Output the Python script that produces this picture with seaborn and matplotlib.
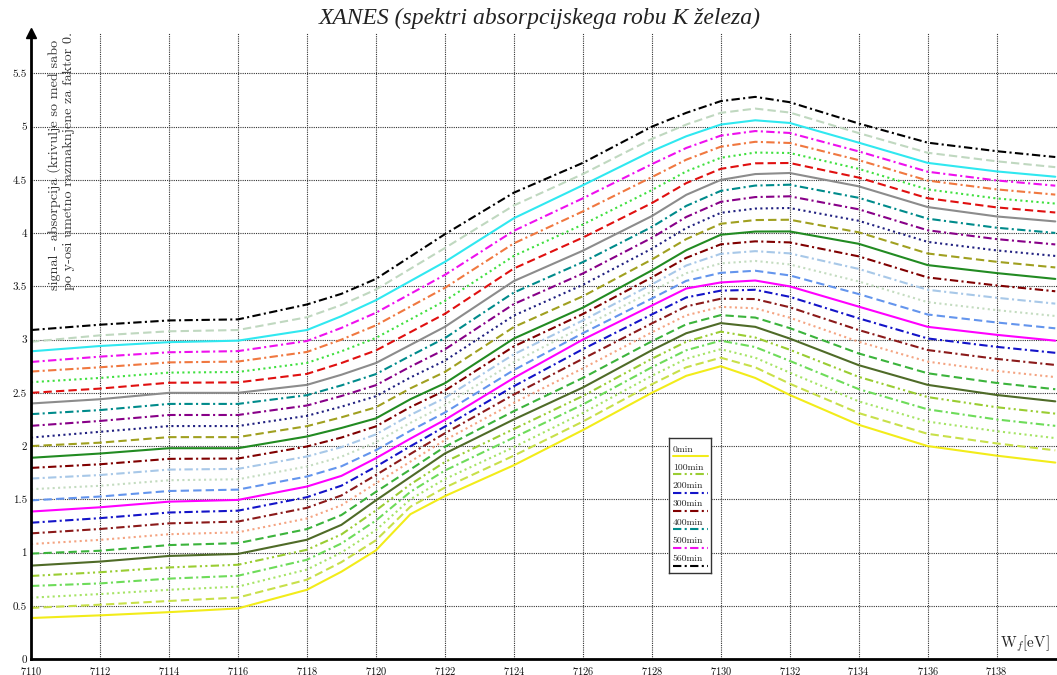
import numpy as np
import pandas as pd
import matplotlib
matplotlib.use('Agg')
import matplotlib.pyplot as plt
from matplotlib.ticker import FuncFormatter
import seaborn as sns

#energy points [eV]
energy = [7110, 7112, 7114, 7116, 7118, 7119, 7120, 7121, 7122, 7124,
          7126, 7128, 7129, 7130, 7131, 7132, 7134, 7136, 7138, 7139.7]

#measured signal for each time (before the 0.1 shift)
abs_0 = [0.385, 0.41, 0.44, 0.475, 0.65, 0.82, 1.02, 1.36, 1.53, 1.82, 2.15, 2.50, 2.66, 2.75, 2.64, 2.48, 2.20, 2.00, 1.91, 1.845]
abs_40 = [0.38, 0.41, 0.445, 0.477, 0.645, 0.81, 1.015, 1.33, 1.51, 1.81, 2.13, 2.48, 2.64, 2.73, 2.64, 2.486, 2.21, 2.015, 1.925, 1.86]
abs_60 = [0.376, 0.41, 0.45, 0.48, 0.64, 0.80, 1.01, 1.30, 1.49, 1.79, 2.11, 2.46, 2.62, 2.71, 2.63, 2.49, 2.22, 2.03, 1.94, 1.875]
abs_80 = [0.386, 0.41, 0.455, 0.482, 0.632, 0.785, 1.0, 1.27, 1.47, 1.78, 2.09, 2.44, 2.60, 2.69, 2.63, 2.50, 2.235, 2.045, 1.95, 1.89]
abs_100 = [0.38, 0.415, 0.46, 0.485, 0.626, 0.77, 0.995, 1.24, 1.45, 1.76, 2.07, 2.42, 2.58, 2.675, 2.62, 2.505, 2.25, 2.06, 1.965, 1.905]
abs_120 = [0.377, 0.415, 0.468, 0.487, 0.62, 0.76, 0.99, 1.21, 1.43, 1.75, 2.05, 2.40, 2.56, 2.655, 2.62, 2.51, 2.26, 2.075, 1.98, 1.92]
abs_140 = [0.39, 0.417, 0.47, 0.488, 0.62, 0.752, 0.97, 1.18, 1.393, 1.728, 2.04, 2.384, 2.544, 2.63, 2.607, 2.508, 2.27, 2.084, 1.993, 1.934]
abs_160 = [0.38, 0.419, 0.472, 0.49, 0.62, 0.744, 0.95, 1.154, 1.356, 1.706, 2.03, 2.368, 2.528, 2.608, 2.594, 2.506, 2.28, 2.093, 2.006, 1.948]
abs_180 = [0.38, 0.421, 0.474, 0.491, 0.62, 0.736, 0.928, 1.126, 1.32, 1.684, 2.02, 2.352, 2.512, 2.584, 2.581, 2.504, 2.29, 2.102, 2.019, 1.962]
abs_200 = [0.38, 0.423, 0.476, 0.493, 0.62, 0.728, 0.907, 1.098, 1.283, 1.662, 2.01, 2.336, 2.496, 2.56, 2.568, 2.502, 2.30, 2.111, 2.032, 1.976]
abs_220 = [0.385, 0.425, 0.478, 0.494, 0.62, 0.72, 0.886, 1.07, 1.246, 1.64, 2.0, 2.32, 2.48, 2.537, 2.555, 2.50, 2.31, 2.12, 2.045, 1.99]
abs_240 = [0.39, 0.426, 0.478, 0.491, 0.614, 0.71, 0.861, 1.044, 1.215, 1.614, 1.96, 2.286, 2.452, 2.527, 2.547, 2.503, 2.328, 2.136, 2.061, 2.006]
abs_260 = [0.395, 0.427, 0.479, 0.488, 0.608, 0.70, 0.836, 1.018, 1.184, 1.588, 1.92, 2.252, 2.424, 2.516, 2.539, 2.506, 2.346, 2.152, 2.077, 2.022]
abs_280 = [0.395, 0.428, 0.479, 0.486, 0.602, 0.69, 0.81, 0.992, 1.152, 1.562, 1.88, 2.218, 2.396, 2.506, 2.531, 2.51, 2.364, 2.168, 2.093, 2.038]
abs_300 = [0.395, 0.429, 0.48, 0.483, 0.596, 0.68, 0.785, 0.966, 1.121, 1.536, 1.84, 2.184, 2.368, 2.495, 2.523, 2.513, 2.382, 2.184, 2.109, 2.054]
abs_320 = [0.39, 0.43, 0.48, 0.48, 0.59, 0.67, 0.76, 0.94, 1.09, 1.51, 1.80, 2.15, 2.34, 2.485, 2.515, 2.516, 2.40, 2.20, 2.125, 2.07]
abs_340 = [0.40, 0.432, 0.484, 0.484, 0.587, 0.67, 0.764, 0.942, 1.096, 1.518, 1.807, 2.152, 2.344, 2.488, 2.523, 2.526, 2.408, 2.209, 2.131, 2.078]
abs_360 = [0.38, 0.434, 0.488, 0.488, 0.584, 0.67, 0.768, 0.944, 1.102, 1.526, 1.814, 2.154, 2.348, 2.491, 2.531, 2.536, 2.416, 2.218, 2.138, 2.086]
abs_380 = [0.39, 0.436, 0.492, 0.492, 0.581, 0.67, 0.772, 0.946, 1.108, 1.534, 1.821, 2.156, 2.352, 2.494, 2.539, 2.546, 2.424, 2.227, 2.144, 2.094]
abs_400 = [0.40, 0.438, 0.496, 0.496, 0.578, 0.67, 0.776, 0.948, 1.114, 1.542, 1.828, 2.158, 2.356, 2.497, 2.547, 2.555, 2.432, 2.236, 2.151, 2.102]
abs_420 = [0.40, 0.44, 0.50, 0.50, 0.575, 0.67, 0.78, 0.95, 1.12, 1.55, 1.835, 2.16, 2.36, 2.50, 2.555, 2.565, 2.44, 2.245, 2.157, 2.11]
abs_440 = [0.40, 0.44, 0.495, 0.498, 0.578, 0.68, 0.798, 0.97, 1.142, 1.568, 1.858, 2.182, 2.37, 2.504, 2.556, 2.559, 2.422, 2.228, 2.142, 2.094]
abs_460 = [0.40, 0.44, 0.49, 0.496, 0.581, 0.69, 0.816, 0.99, 1.164, 1.586, 1.881, 2.204, 2.38, 2.508, 2.557, 2.553, 2.404, 2.211, 2.126, 2.078]
abs_480 = [0.40, 0.44, 0.486, 0.494, 0.584, 0.70, 0.834, 1.01, 1.186, 1.604, 1.904, 2.226, 2.39, 2.512, 2.558, 2.547, 2.386, 2.194, 2.111, 2.062]
abs_500 = [0.39, 0.44, 0.481, 0.492, 0.587, 0.71, 0.852, 1.03, 1.208, 1.622, 1.927, 2.248, 2.40, 2.516, 2.559, 2.541, 2.368, 2.177, 2.095, 2.046]
abs_520 = [0.39, 0.44, 0.476, 0.49, 0.59, 0.72, 0.87, 1.05, 1.23, 1.64, 1.95, 2.27, 2.41, 2.52, 2.56, 2.535, 2.35, 2.16, 2.08, 2.03]
abs_540 = [0.38, 0.44, 0.478, 0.49, 0.61, 0.725, 0.87, 1.065, 1.26, 1.66, 1.955, 2.285, 2.42, 2.53, 2.57, 2.533, 2.34, 2.155, 2.075, 2.02]
abs_560 = [0.39, 0.44, 0.48, 0.49, 0.63, 0.73, 0.87, 1.08, 1.29, 1.68, 1.96, 2.30, 2.43, 2.54, 2.58, 2.53, 2.33, 2.15, 2.07, 2.015]

times = [0, 40, 60, 80, 100, 120, 140, 160, 180, 200, 220, 240, 260, 280,
         300, 320, 340, 360, 380, 400, 420, 440, 460, 480, 500, 520, 540, 560]
spectra = [abs_0, abs_40, abs_60, abs_80, abs_100, abs_120, abs_140, abs_160,
           abs_180, abs_200, abs_220, abs_240, abs_260, abs_280, abs_300,
           abs_320, abs_340, abs_360, abs_380, abs_400, abs_420, abs_440,
           abs_460, abs_480, abs_500, abs_520, abs_540, abs_560]
shift = 0.1
legend_times = [0, 100, 200, 300, 400, 500, 560]

colors = ['#f2ec1a', '#c8e04a', '#a6e466', '#6edc5a', '#9acd32',
          '#4f6b28', '#3cb43c', '#f4a482', '#8b1a1a', '#1414c8',
          '#ff00ff', '#6495ed', '#c4dcc0', '#a8c8e8', '#800000',
          '#228b22', '#a0a020', '#202080', '#880088', '#008b8b',
          '#8c8c8c', '#e01010', '#40e040', '#f07840', '#ee10ee',
          '#30e8f0', '#c0d8c0', '#000000']
SOLID = ''
DASH = (4, 2)
DOT = (1, 1.6)
DASHDOT = (4, 1.6, 1, 1.6)
DASHDOTDOT = (4, 1.6, 1, 1.6, 1, 1.6)
styles = [SOLID, DASH, DOT, DASHDOT, DASHDOTDOT,
          SOLID, DASH, DOT, DASHDOT, DASHDOT,
          SOLID, DASH, DOT, DASHDOT, DASHDOT,
          SOLID, DASH, DOT, DASHDOT, DASHDOT,
          SOLID, DASH, DOT, DASHDOT, DASHDOT,
          SOLID, DASH, DASHDOT]

rows = []
for i, (t, s) in enumerate(zip(times, spectra)):
    for e, v in zip(energy, s):
        rows.append({'E': e, 'signal': v + shift * i, 'cas': f'{t}min'})
df = pd.DataFrame(rows)
labels = [f'{t}min' for t in times]

sns.set_style('white')
plt.rcParams['font.family'] = ['cmr10', 'DejaVu Serif']
plt.rcParams['mathtext.fontset'] = 'cm'
plt.rcParams['axes.formatter.use_mathtext'] = True

fig = plt.figure(figsize=(10.57, 6.75), dpi=100)
ax = fig.add_axes([31 / 1057, 16 / 675, 1 - 31 / 1057, (659 - 33) / 675])

sns.lineplot(data=df, x='E', y='signal', hue='cas', style='cas',
             hue_order=labels, style_order=labels,
             palette=dict(zip(labels, colors)),
             dashes=dict(zip(labels, styles)),
             estimator=None, sort=False, linewidth=1.5, legend=False, ax=ax,
             solid_joinstyle='round', dash_joinstyle='round')

ax.set_xlim(7110, 7139.75)
ax.set_ylim(0, 5.88)
ax.set_xticks(np.arange(7110, 7139, 2))
ax.set_yticks(np.arange(0, 5.51, 0.5))
ax.yaxis.set_major_formatter(FuncFormatter(lambda v, p: f'{v:g}'))
ax.tick_params(labelsize=8, length=2, width=0.8, pad=1, colors='#111111')
ax.tick_params(axis='x', pad=2, labelsize=7.5)
ax.set_xlabel('')
ax.set_ylabel('')
ax.grid(True, linestyle=(0, (1, 1)), color='#333333', linewidth=0.8)
for side in ['top', 'right']:
    ax.spines[side].set_visible(False)
for side in ['left', 'bottom']:
    ax.spines[side].set_linewidth(2)
    ax.spines[side].set_color('black')
ax.plot(0, 1, marker='^', color='black', markersize=7,
        transform=ax.transAxes, clip_on=False)

fig.text(0.511, 0.973, 'XANES (spektri absorpcijskega robu K železa)',
         ha='center', va='center', fontsize=17, style='italic',
         family=['Liberation Serif'], color='#222222')
fig.text(61.5 / 1057, 1 - 290 / 675,
         'signal - absorpcija (krivulje so med sabo\npo y-osi umetno razmaknjene za faktor 0.',
         rotation=90, ha='center', va='bottom', multialignment='left',
         fontsize=10.2, linespacing=1.2, color='#333333')
fig.text(1050 / 1057, 1 - 647 / 675, r'W$_f$[eV]', ha='right', va='baseline',
         fontsize=11)

#legend box with the text above each line sample
lax = fig.add_axes([669 / 1057, 1 - 573 / 675, 42 / 1057, 135 / 675])
lax.set_xlim(0, 1)
lax.set_ylim(0, 1)
lax.set_xticks([])
lax.set_yticks([])
lax.set_facecolor('white')
for sp in lax.spines.values():
    sp.set_linewidth(1)
    sp.set_color('#333333')
for k, t in enumerate(legend_times):
    i = times.index(t)
    yt = 0.916 - k * 0.1356
    lax.text(0.09, yt, f'{t}min', fontsize=7, va='center', ha='left')
    line, = lax.plot([0.09, 0.93], [yt - 0.05, yt - 0.05], color=colors[i], lw=1.5)
    if styles[i]:
        line.set_dashes(styles[i])

fig.savefig('out.png', dpi=100)
